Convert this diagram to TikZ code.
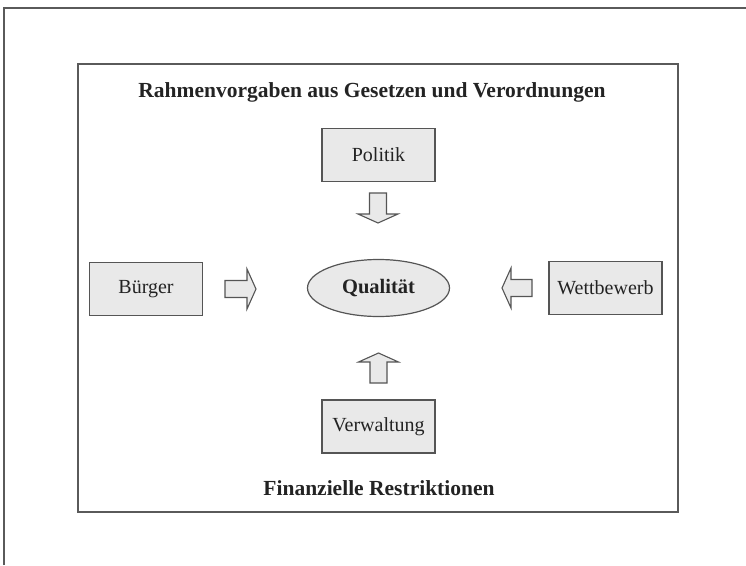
\documentclass[tikz,border=0pt]{standalone}
\usepackage{fontspec}
\setmainfont{Liberation Serif}
\usetikzlibrary{shapes.geometric}
\definecolor{inkc}{RGB}{35,35,35}
\definecolor{edgec}{RGB}{85,85,85}
\definecolor{boxfill}{RGB}{233,233,233}
\definecolor{framec}{RGB}{90,90,90}
\tikzset{
  actor/.style={draw=edgec, line width=1.2pt, fill=boxfill, text=inkc,
    minimum width=113pt, minimum height=53pt, inner sep=0pt,
    font=\fontsize{20}{22}\selectfont},
  core/.style={ellipse, draw=edgec, line width=1.2pt, fill=boxfill, text=inkc,
    minimum width=142pt, minimum height=57pt, inner sep=0pt,
    font=\fontsize{20.5}{22}\selectfont\bfseries},
  caption/.style={text=inkc, inner sep=0pt, font=\fontsize{21.5}{23}\selectfont\bfseries},
  frame/.style={draw=framec, line width=1.3pt},
  pics/blockarrow/.style={code={
    \filldraw[draw=edgec, fill=boxfill, line width=1.1pt, line join=miter]
      (0,-8.5) -- (#1-9,-8.5) -- (#1-9,-20) -- (#1,0) -- (#1-9,20)
      -- (#1-9,8.5) -- (0,8.5) -- cycle;
  }}
}
\begin{document}
\begin{tikzpicture}[x=1pt, y=-1pt]
  \useasboundingbox (0,0) rectangle (746,565);
  % page border (runs off the right and bottom)
  \draw[frame, line width=1.2pt] (4,565) -- (4,8) -- (746,8);
  % inner frame
  \draw[frame] (78,64) rectangle (678,512);

  \node[caption, anchor=base] (top) at (372,97) {Rahmenvorgaben aus Gesetzen und Verordnungen};
  \node[caption, anchor=base] (bottom) at (379,495) {Finanzielle Restriktionen};

  \node[actor] (politik) at (378.5,155) {Politik};
  \node[actor] (buerger) at (146,289) {Bürger};
  \node[actor] (wettbewerb) at (605.5,288) {Wettbewerb};
  \node[actor] (verwaltung) at (378.5,426.5) {Verwaltung};
  \node[core] (qualitaet) at (378.5,288) {Qualität};

  % block arrows pointing towards the centre
  \coordinate (tailP) at (378,193);
  \coordinate (tailB) at (225,289);
  \coordinate (tailW) at (532,288);
  \coordinate (tailV) at (378.5,383);
  \pic[rotate=-90] at (tailP) {blockarrow=30};
  \pic at (tailB) {blockarrow=31};
  \pic[rotate=180] at (tailW) {blockarrow=30};
  \pic[rotate=90] at (tailV) {blockarrow=30};
\end{tikzpicture}
\end{document}
